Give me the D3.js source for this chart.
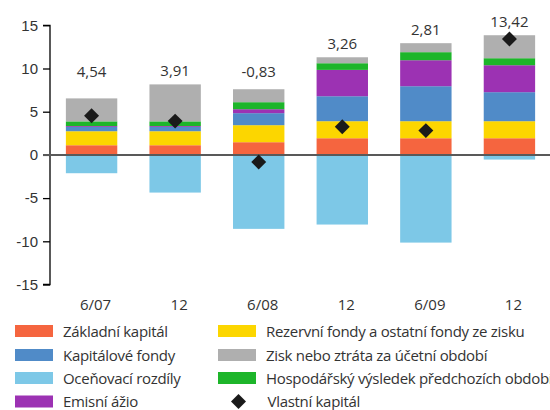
<!DOCTYPE html>
<html>
<head>
<meta charset="utf-8">
<script src="https://cdn.jsdelivr.net/npm/d3@7"></script>
<style>
  html, body { margin: 0; padding: 0; background: #fff; }
  svg { display: block; font-family: "Open Sans", "Noto Sans", sans-serif; }
</style>
</head>
<body>
<svg id="chart" width="550" height="410"></svg>
<script>
// Periods (half-years)
const categories = ["6/07", "12", "6/08", "12", "6/09", "12"];

// Equity components, bn CZK
const zakladniKapital = [1.12, 1.12, 1.47, 1.93, 1.93, 1.93];
const rezervniFondy   = [1.62, 1.62, 1.97, 1.97, 1.97, 1.97];
const kapitaloveFondy = [0.50, 0.50, 1.39, 2.89, 4.05, 3.36];
const emisniAzio      = [0.10, 0.10, 0.46, 3.05, 3.01, 3.12];
const hospVysledek    = [0.54, 0.54, 0.81, 0.77, 0.93, 0.81];
const ziskZtrata      = [2.66, 4.28, 1.50, 0.69, 1.04, 2.66];
const ocenovaciRozdil = [-2.12, -4.36, -8.56, -8.06, -10.15, -0.54];
const vlastniKapital  = [4.54, 3.91, -0.83, 3.26, 2.81, 13.42];

const yTicks = [-15, -10, -5, 0, 5, 10, 15];

const series = [
  { key: "zakladni",  name: "Základní kapitál", values: zakladniKapital, color: "#f5653f" },
  { key: "rezervni",  name: "Rezervní fondy a ostatní fondy ze zisku", values: rezervniFondy, color: "#fcd600" },
  { key: "kapital",   name: "Kapitálové fondy", values: kapitaloveFondy, color: "#508bc8" },
  { key: "emisni",    name: "Emisní ážio", values: emisniAzio, color: "#9c32b3" },
  { key: "hosp",      name: "Hospodářský výsledek předchozích období", values: hospVysledek, color: "#1db52a" },
  { key: "zisk",      name: "Zisk nebo ztráta za účetní období", values: ziskZtrata, color: "#afafaf" },
  { key: "ocen",      name: "Oceňovací rozdíly", values: ocenovaciRozdil, color: "#7dc8e7" }
];

const rows = categories.map((c, i) => {
  const r = { i };
  series.forEach(s => r[s.key] = s.values[i]);
  return r;
});

const svg = d3.select("#chart");
const x = d3.scaleBand().domain(d3.range(categories.length)).range([50, 551]).paddingInner(0.385).paddingOuter(0.19);
const y = d3.scaleLinear().domain([-15, 15]).range([284.5, 25.3]);

const stacked = d3.stack()
  .keys(series.map(s => s.key))
  .offset(d3.stackOffsetDiverging)(rows);

const colorOf = Object.fromEntries(series.map(s => [s.key, s.color]));

svg.append("g").selectAll("g")
  .data(stacked).join("g")
  .attr("fill", d => colorOf[d.key])
  .selectAll("rect")
  .data(d => d).join("rect")
  .attr("x", d => x(d.data.i))
  .attr("width", x.bandwidth())
  .attr("y", d => y(d[1]))
  .attr("height", d => Math.max(0, y(d[0]) - y(d[1])));

// Y axis
const yAxis = svg.append("g")
  .attr("transform", "translate(50,0)")
  .call(d3.axisLeft(y).tickValues(yTicks).tickSize(7).tickPadding(5).tickFormat(d => d));
yAxis.select(".domain").attr("stroke", "#000").attr("stroke-width", 1.3).attr("d", `M-7,${y(15)}H0V${y(-15)}H-7`);
yAxis.selectAll(".tick line").attr("stroke", "#000").attr("stroke-width", 1.3);
yAxis.selectAll(".tick text").attr("fill", "#333").attr("font-size", 15);

// Zero line
svg.append("line")
  .attr("x1", 43).attr("x2", 550)
  .attr("y1", y(0)).attr("y2", y(0))
  .attr("stroke", "#595959").attr("stroke-width", 2);

// Category labels
svg.append("g").selectAll("text")
  .data(categories).join("text")
  .attr("x", (d, i) => x(i) + x.bandwidth() / 2 + 4)
  .attr("y", 310)
  .attr("text-anchor", "middle")
  .attr("font-size", 15)
  .attr("fill", "#333")
  .text(d => d);

// Total equity markers
const diamond = d3.symbol().type(d3.symbolSquare).size(112);
svg.append("g").selectAll("path")
  .data(vlastniKapital).join("path")
  .attr("d", diamond)
  .attr("fill", "#1a1a1a")
  .attr("transform", (d, i) => `translate(${x(i) + x.bandwidth() / 2},${y(d)}) rotate(45)`);

// Value labels above the stacks (decimal comma, plain hyphen for negatives)
const fmt = v => d3.format(".2f")(v).replace(".", ",").replace("\u2212", "-");
svg.append("g").selectAll("text")
  .data(vlastniKapital).join("text")
  .attr("x", (d, i) => x(i) + x.bandwidth() / 2)
  .attr("y", (d, i) => {
    const top = d3.max(stacked, s => s[i][1]);
    return y(Math.max(9, top + 1));
  })
  .attr("text-anchor", "middle")
  .attr("font-size", 15)
  .attr("fill", "#333")
  .text(fmt);

// Legend
const legendCols = [
  ["zakladni", "kapital", "ocen", "emisni"],
  ["rezervni", "zisk", "hosp", "vlastni"]
];
const byKey = Object.fromEntries(series.map(s => [s.key, s]));
const colX = [15, 218];
const rowY = [331, 355, 378, 401.5];
const legend = svg.append("g").attr("letter-spacing", -0.3);
legendCols.forEach((col, ci) => {
  col.forEach((k, ri) => {
    const g = legend.append("g").attr("transform", `translate(${colX[ci]},${rowY[ri]})`);
    if (k === "vlastni") {
      g.append("path").attr("d", diamond).attr("fill", "#1a1a1a")
        .attr("transform", "translate(20.5,0) rotate(45)");
      g.append("text").attr("x", 49.5).attr("y", 5.5).attr("font-size", 15).attr("fill", "#333").text("Vlastní kapitál");
    } else {
      g.append("rect").attr("x", 0).attr("y", -6).attr("width", 38).attr("height", 12).attr("fill", byKey[k].color);
      g.append("text").attr("x", 48).attr("y", 5.5).attr("font-size", 15).attr("fill", "#333").text(byKey[k].name);
    }
  });
});
</script>
</body>
</html>
